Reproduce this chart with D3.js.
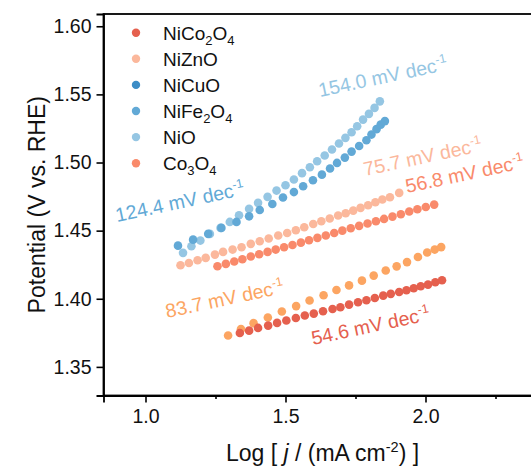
<!DOCTYPE html>
<html>
<head>
<meta charset="utf-8">
<script src="https://cdn.jsdelivr.net/npm/d3@7"></script>
<style>
  html, body { margin: 0; padding: 0; background: #fff; }
  svg { display: block; font-family: "Liberation Sans", Arial, Helvetica, sans-serif; }
</style>
</head>
<body>
<svg id="chart" width="531" height="470"></svg>
<script>
// Tafel data: log current density vs. potential (V vs. RHE)
const nico2o4X = [1.337,1.370,1.402,1.438,1.470,1.503,1.537,1.569,1.601,1.634,1.668,1.696,1.727,1.759,1.789,1.819,1.849,1.876,1.906,1.932,1.958,1.983,2.009,2.035,2.059];
const nico2o4Y = [1.3749,1.3766,1.3786,1.3803,1.3823,1.3840,1.3859,1.3877,1.3891,1.3908,1.3925,1.3938,1.3957,1.3974,1.3989,1.4006,1.4023,1.4036,1.4050,1.4062,1.4077,1.4092,1.4104,1.4121,1.4136];

const orangeX = [1.295,1.341,1.386,1.437,1.487,1.538,1.586,1.636,1.682,1.727,1.773,1.815,1.858,1.897,1.934,1.973,2.006,2.033,2.056];
const orangeY = [1.3730,1.3777,1.3821,1.3862,1.3906,1.3946,1.3987,1.4026,1.4064,1.4098,1.4133,1.4170,1.4207,1.4238,1.4269,1.4306,1.4339,1.4361,1.4379];

const co3o4X = [1.257,1.287,1.317,1.346,1.376,1.406,1.436,1.465,1.495,1.525,1.555,1.584,1.614,1.644,1.674,1.703,1.733,1.763,1.793,1.823,1.852,1.882,1.912,1.942,1.971,2.001,2.031];
const co3o4Y = [1.4239,1.4256,1.4273,1.4290,1.4310,1.4327,1.4344,1.4361,1.4378,1.4395,1.4412,1.4429,1.4447,1.4464,1.4483,1.4500,1.4518,1.4535,1.4552,1.4569,1.4586,1.4603,1.4620,1.4640,1.4657,1.4674,1.4691];

const niznoX = [1.125,1.155,1.186,1.215,1.248,1.277,1.311,1.343,1.376,1.408,1.440,1.474,1.506,1.537,1.567,1.599,1.628,1.658,1.688,1.715,1.742,1.768,1.795,1.821,1.846,1.873,1.906];
const niznoY = [1.4246,1.4263,1.4283,1.4300,1.4324,1.4344,1.4361,1.4378,1.4403,1.4422,1.4442,1.4464,1.4483,1.4503,1.4525,1.4549,1.4569,1.4589,1.4611,1.4628,1.4647,1.4667,1.4686,1.4708,1.4728,1.4745,1.4777];

const nife2o4X = [1.116,1.170,1.224,1.271,1.325,1.370,1.408,1.453,1.491,1.530,1.563,1.598,1.630,1.659,1.684,1.712,1.736,1.763,1.789,1.807,1.825,1.840,1.855];
const nife2o4Y = [1.4390,1.4434,1.4476,1.4520,1.4564,1.4605,1.4651,1.4696,1.4743,1.4783,1.4826,1.4870,1.4911,1.4956,1.4997,1.5036,1.5080,1.5121,1.5163,1.5205,1.5245,1.5278,1.5304];

const nioX = [1.134,1.164,1.196,1.230,1.268,1.301,1.334,1.370,1.402,1.436,1.468,1.500,1.530,1.559,1.587,1.613,1.640,1.666,1.691,1.714,1.736,1.756,1.777,1.798,1.818,1.837];
const nioY = [1.4337,1.4385,1.4427,1.4476,1.4520,1.4564,1.4613,1.4660,1.4704,1.4748,1.4794,1.4833,1.4875,1.4922,1.4965,1.5009,1.5051,1.5095,1.5139,1.5181,1.5222,1.5266,1.5315,1.5357,1.5401,1.5449];

// Axis ticks
const xTicks = [1.0, 1.5, 2.0];
const xMinorTicks = [1.25, 1.75, 2.25];
const yTicks = [1.35, 1.40, 1.45, 1.50, 1.55, 1.60];

// Legend
const legendNames = [
  [["NiCo",0],["2",1],["O",0],["4",1]],
  [["NiZnO",0]],
  [["NiCuO",0]],
  [["NiFe",0],["2",1],["O",0],["4",1]],
  [["NiO",0]],
  [["Co",0],["3",1],["O",0],["4",1]]
];
const legendColors = ["#e5604e", "#fbb89c", "#3c8dc6", "#62a9d6", "#95c6e3", "#f98a6b"];

// Tafel slope annotations (anchored in data coordinates)
const slopeText = ["154.0", "124.4", "75.7", "56.8", "83.7", "54.6"];
const slopeAtX = [1.623, 0.898, 1.784, 1.934, 1.077, 1.598];
const slopeAtY = [1.5481, 1.4563, 1.4901, 1.4776, 1.3859, 1.3661];
const slopeColors = ["#95c6e3", "#62a9d6", "#fbb89c", "#f98a6b", "#fca562", "#e5604e"];

const series = [
  { x: niznoX,   y: niznoY,   color: "#fbb89c" },
  { x: co3o4X,   y: co3o4Y,   color: "#f98a6b" },
  { x: nioX,     y: nioY,     color: "#95c6e3" },
  { x: nife2o4X, y: nife2o4Y, color: "#62a9d6" },
  { x: orangeX,  y: orangeY,  color: "#fca562" },
  { x: nico2o4X, y: nico2o4Y, color: "#e5604e" }
];

const svg = d3.select("#chart");
const plotLeft = 103.5, plotRight = 537.5, plotTop = 14, plotBottom = 395.5;
const font = '"Liberation Sans", Arial, sans-serif';

const x = d3.scaleLinear().domain([0.85, 2.40]).range([plotLeft, plotRight]);
const y = d3.scaleLinear().domain([1.329, 1.609]).range([plotBottom, plotTop]);

// Frame
svg.append("rect")
  .attr("x", plotLeft).attr("y", plotTop)
  .attr("width", plotRight - plotLeft).attr("height", plotBottom - plotTop)
  .attr("fill", "none").attr("stroke", "#000").attr("stroke-width", 1.8);

// Y axis
const yAxis = svg.append("g")
  .attr("transform", `translate(${plotLeft},0)`)
  .call(d3.axisLeft(y).tickValues(yTicks).tickFormat(d3.format(".2f")).tickSize(7).tickPadding(5));
yAxis.select(".domain").attr("stroke-width", 1.8);
yAxis.selectAll(".tick line").attr("stroke-width", 1.6);
yAxis.selectAll(".tick text").attr("font-size", 19.5).attr("fill", "#111").attr("font-family", font);

// X axis
const xAxis = svg.append("g")
  .attr("transform", `translate(0,${plotBottom})`)
  .call(d3.axisBottom(x).tickValues(xTicks).tickFormat(d3.format(".1f")).tickSize(7).tickPadding(7));
xAxis.select(".domain").attr("stroke-width", 1.8);
xAxis.selectAll(".tick line").attr("stroke-width", 1.6);
xAxis.selectAll(".tick text").attr("font-size", 19.5).attr("fill", "#111").attr("font-family", font);

const xMinor = svg.append("g")
  .attr("transform", `translate(0,${plotBottom})`)
  .call(d3.axisBottom(x).tickValues(xMinorTicks).tickFormat("").tickSize(3.5));
xMinor.select(".domain").remove();
xMinor.selectAll(".tick line").attr("stroke-width", 1.6);

// Axis titles
const xt = svg.append("text")
  .attr("x", (plotLeft + plotRight) / 2 + 2).attr("y", 461)
  .attr("text-anchor", "middle").attr("font-size", 23).attr("fill", "#111");
xt.append("tspan").text("Log [ ");
xt.append("tspan").attr("font-style", "italic").text("j");
xt.append("tspan").text(" / (mA cm");
xt.append("tspan").attr("font-size", 14.5).attr("dy", -9).text("-2");
xt.append("tspan").attr("dy", 9).text(") ]");

svg.append("text")
  .attr("transform", `translate(45,${(plotTop + plotBottom) / 2}) rotate(-90)`)
  .attr("text-anchor", "middle").attr("font-size", 23).attr("fill", "#111")
  .text("Potential (V vs. RHE)");

// Data points
const plot = svg.append("g");
series.forEach(s => {
  plot.append("g").selectAll("circle")
    .data(d3.range(s.x.length))
    .join("circle")
    .attr("cx", i => x(s.x[i]))
    .attr("cy", i => y(s.y[i]))
    .attr("r", 4.3)
    .attr("fill", s.color);
});

// Slope annotations
slopeText.forEach((t, i) => {
  const px = x(slopeAtX[i]), py = y(slopeAtY[i]);
  const tx = svg.append("text")
    .attr("transform", `translate(${px},${py}) rotate(-12)`)
    .attr("font-size", 19.5).attr("fill", slopeColors[i]);
  tx.append("tspan").text(t + " mV dec");
  tx.append("tspan").attr("font-size", 12.5).attr("dy", -8).text("-1");
});

// Legend
const legend = svg.append("g");
legendNames.forEach((parts, i) => {
  const cy = 32.7 + i * 26.1;
  legend.append("circle").attr("cx", 136).attr("cy", cy).attr("r", 4.2).attr("fill", legendColors[i]);
  const t = legend.append("text").attr("x", 163).attr("y", cy + 6.8)
    .attr("font-size", 19).attr("fill", "#111");
  let prevSub = 0;
  parts.forEach(([s, sub]) => {
    const sp = t.append("tspan").text(s);
    if (sub) sp.attr("font-size", 13);
    const shift = (sub ? 5 : 0) - (prevSub ? 5 : 0);
    if (shift !== 0) sp.attr("dy", shift);
    prevSub = sub;
  });
});
</script>
</body>
</html>
